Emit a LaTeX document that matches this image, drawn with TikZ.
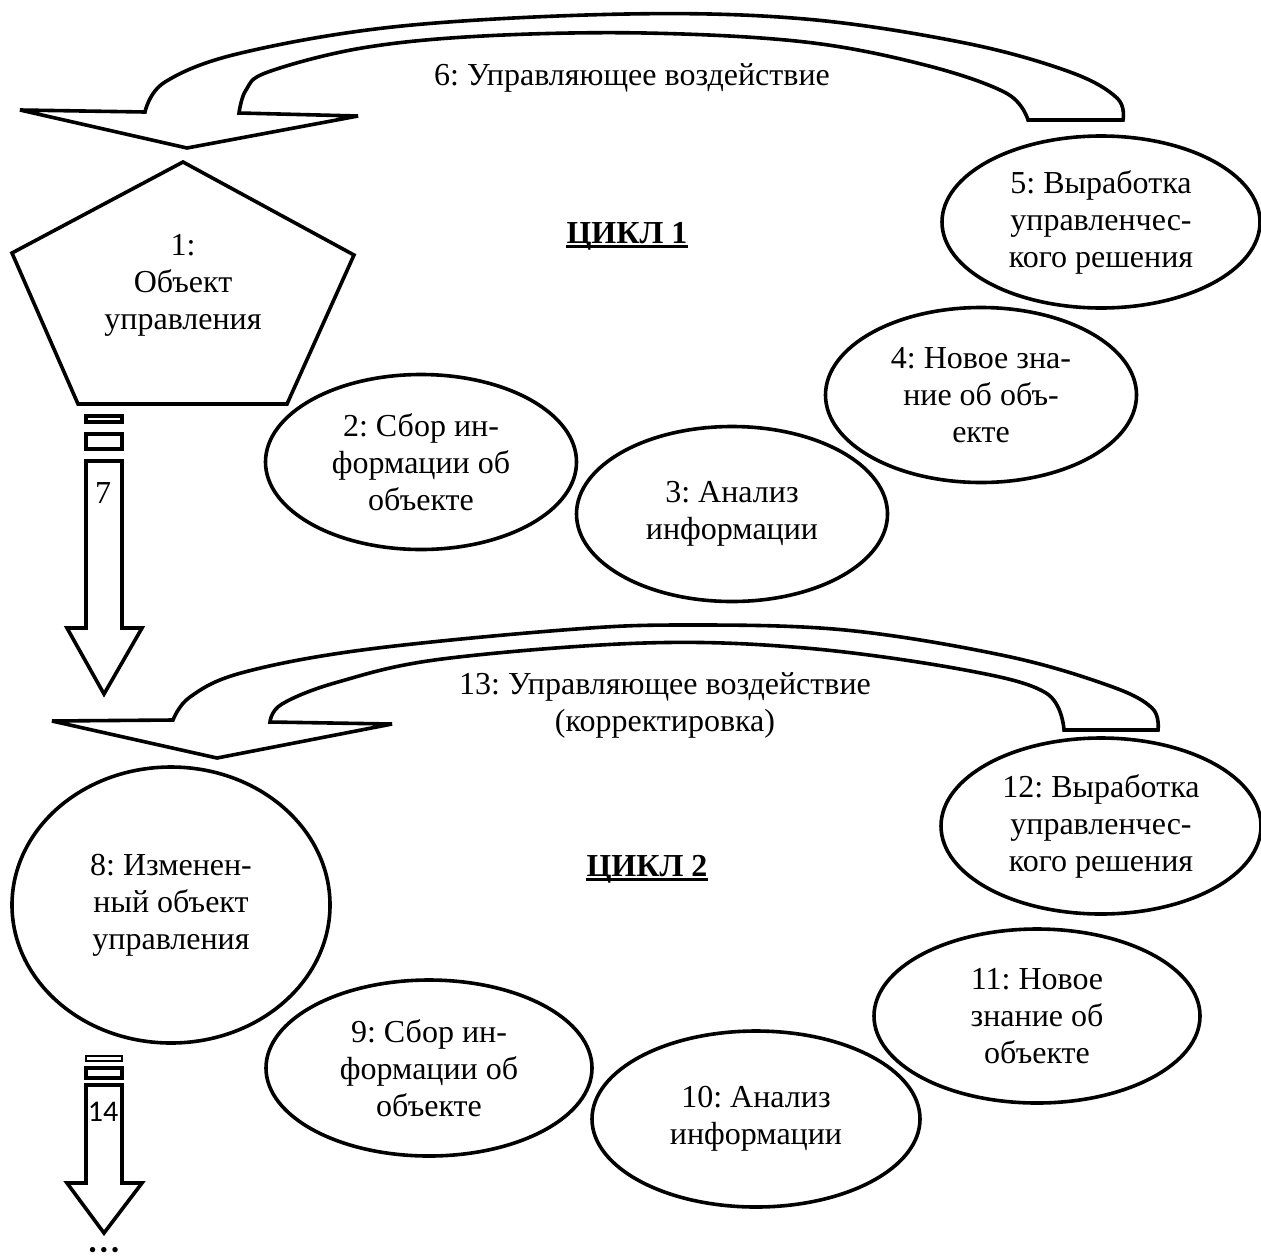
\documentclass[tikz,border=0pt]{standalone}
\usepackage{fontspec}
\setmainfont{Liberation Serif}
\newfontfamily\calfont{Carlito}
\usetikzlibrary{shapes.geometric}
\frenchspacing
\tikzset{
  lw/.style={line width=1.8pt, line join=miter, miter limit=3},
  ell/.style={draw, line width=1.8pt, ellipse, inner sep=0pt, align=center,
              minimum width=155.5pt, minimum height=87.5pt},
  txt/.style={align=center, inner sep=0pt},
  cyc/.style={inner sep=0pt, font=\fontsize{16}{18.5}\selectfont\bfseries},
}
\begin{document}
\begin{tikzpicture}[x=0.5pt,y=-0.5pt,font=\fontsize{16}{18.5}\selectfont]
\useasboundingbox (0,0) rectangle (1261,1258);

% ---------- curved arrow 6 ----------
\draw[lw] (20,110) -- (187,148) -- (358,116) -- (239,113)
  -- plot[smooth, tension=0.6] coordinates {(239,113) (246,90) (268,72) (362,48) (483,36) (644,33) (805,42) (925,65) (1006,93) (1028,120)}
  -- (1123,120)
  -- plot[smooth, tension=0.6] coordinates {(1123,120) (1117,98) (1070,72) (965,43) (805,19) (627,14) (402,26) (241,53) (165,82) (145,112)}
  -- cycle;
\node[txt] (t6) at (632,78) {6: Управляющее воздействие};

% ---------- pentagon 1 ----------
\draw[lw] (183,162) -- (354,255) -- (287,404) -- (78,404) -- (12,253) -- cycle;
\node[txt] (n1) at (183,285) {1:\\Объект\\управления};

\node[cyc, anchor=base] (c1) at (627,243) {ЦИКЛ 1};
\draw[line width=1.6pt] ([yshift=-1.8pt]c1.base west) -- ([yshift=-1.8pt]c1.base east);

% ---------- ellipses cycle 1 ----------
\node[ell] (n2) at (421,462) {2: Сбор ин-\\формации об\\объекте};
\node[ell] (n3) at (732,514) {3: Анализ\\информации};
\node[ell] (n4) at (981,395) {4: Новое зна-\\ние об объ-\\екте};
\node[ell, minimum width=159pt, minimum height=86pt] (n5) at (1101,222) {5: Выработка\\управленчес-\\кого решения};

% ---------- arrow 7 ----------
\draw[lw] (86,416) rectangle (122,422);
\draw[lw] (86,434) rectangle (122,449);
\draw[lw] (86,461) -- (122,461) -- (122,628) -- (142,628) -- (104,694) -- (67,628) -- (86,628) -- cycle;
\node[txt] (t7) at (103,493) {7};

% ---------- curved arrow 13 ----------
\draw[lw] (52,721) -- (217,758) -- (392,724) -- (270,722)
  -- plot[smooth, tension=0.6] coordinates {(270,722) (282,704) (338,682) (442,659) (644,643) (805,648) (965,670) (1046,693) (1064,730)}
  -- (1158,730)
  -- plot[smooth, tension=0.6] coordinates {(1158,730) (1152,708) (1110,686) (1006,656) (845,630) (684,625) (563,630) (362,650) (241,673) (190,697) (173,720)}
  -- cycle;
\node[txt] (t13) at (665,705) {13: Управляющее воздействие\\(корректировка)};

% ---------- cycle 2 ----------
\node[ell, minimum width=159pt, minimum height=138pt] (n8) at (171,905) {8: Изменен-\\ный объект\\управления};
\node[cyc, anchor=base] (c2) at (647,876) {ЦИКЛ 2};
\draw[line width=1.6pt] ([yshift=-1.8pt]c2.base west) -- ([yshift=-1.8pt]c2.base east);
\node[ell, minimum width=160pt, minimum height=88pt] (n12) at (1101,826) {12: Выработка\\управленчес-\\кого решения};
\node[ell, minimum width=163pt, minimum height=87pt] (n11) at (1037,1016) {11: Новое\\знание об\\объекте};
\node[ell, minimum width=163pt, minimum height=88pt] (n9) at (429,1068) {9: Сбор ин-\\формации об\\объекте};
\node[ell, minimum width=164pt, minimum height=88pt] (n10) at (756,1119) {10: Анализ\\информации};

% ---------- arrow 14 ----------
\draw[line width=1.4pt] (86,1056) rectangle (122,1061);
\draw[lw] (86,1068) rectangle (122,1078);
\draw[lw] (86,1085) -- (122,1085) -- (122,1183) -- (142,1183) -- (104,1233) -- (67,1183) -- (86,1183) -- cycle;
\node[txt, font=\calfont\fontsize{15}{18}\selectfont] (t14) at (103,1112) {14};
\node[txt, font=\calfont\fontsize{18}{18}\selectfont\bfseries, anchor=base] (dots) at (104,1252) {.\kern0.8pt.\kern0.8pt.};
\end{tikzpicture}
\end{document}
